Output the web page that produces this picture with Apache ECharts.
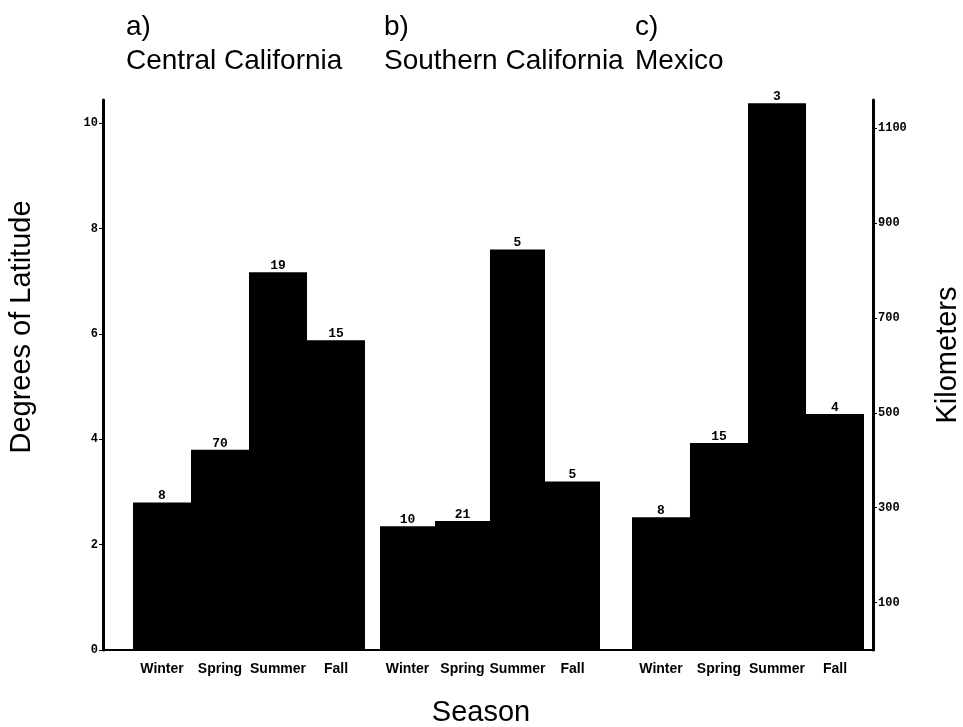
<!DOCTYPE html>
<html>
<head>
<meta charset="utf-8">
<script src="https://cdn.jsdelivr.net/npm/echarts@6/dist/echarts.min.js"></script>
<style>
	html, body { margin: 0; background: #fff; }
	#chart { width: 963px; height: 727px; }
</style>
</head>
<body>
<div id="chart"></div>
<script>
	/* seasons on each panel */
	var seasons = ['Winter', 'Spring', 'Summer', 'Fall'];
	var panelTags = ['a)', 'b)', 'c)'];
	var panelNames = ['Central California', 'Southern California', 'Mexico'];
	/* mean distance moved, degrees of latitude */
	var centralLat = [2.8, 3.8, 7.17, 5.88];
	var southernLat = [2.35, 2.45, 7.6, 3.2];
	var mexicoLat = [2.52, 3.93, 10.38, 4.48];
	/* sample sizes printed on the bars */
	var centralN = [8, 70, 19, 15];
	var southernN = [10, 21, 5, 5];
	var mexicoN = [8, 15, 3, 4];
	/* tick labels */
	var latTicks = [0, 2, 4, 6, 8, 10];
	var kmTicks = [100, 300, 500, 700, 900, 1100];

	var KM_PER_DEG = 111.1;
	var LAT_MAX = 10.44;
	var TOP = 100, BOTTOM = 77;
	var panelLeft = [133, 380, 632];
	var panelWidth = [232, 220, 232];
	var titleLeft = [121, 379, 630];
	var panelLat = [centralLat, southernLat, mexicoLat];
	var panelN = [centralN, southernN, mexicoN];

	var chart = echarts.init(document.getElementById('chart'));

	var tickFont = { color: '#000', fontFamily: 'Liberation Mono', fontWeight: 'bold', fontSize: 12 };
	var grids = [{ left: 103, right: 90, top: TOP, bottom: BOTTOM }];
	var xAxes = [{
		type: 'value', gridIndex: 0, min: 0, max: 1,
		axisLine: { show: true, lineStyle: { color: '#000', width: 2 } },
		axisTick: { show: false }, axisLabel: { show: false }, splitLine: { show: false }
	}];
	var yAxes = [{
		type: 'value', gridIndex: 0, position: 'left', min: 0, max: LAT_MAX,
		axisLine: { show: true, lineStyle: { color: '#000', width: 3 } },
		axisTick: { show: true, length: 4, customValues: latTicks, lineStyle: { color: '#000', width: 1 } },
		axisLabel: Object.assign({ customValues: latTicks, margin: 5 }, tickFont),
		splitLine: { show: false }
	}, {
		type: 'value', gridIndex: 0, position: 'right', min: 0, max: LAT_MAX * KM_PER_DEG,
		axisLine: { show: true, lineStyle: { color: '#000', width: 3 } },
		axisTick: { show: true, length: 4, customValues: kmTicks, lineStyle: { color: '#000', width: 1 } },
		axisLabel: Object.assign({ customValues: kmTicks, margin: 5, formatter: function (v) { return String(v); } }, tickFont),
		splitLine: { show: false }
	}];
	var series = [];
	var titles = [];

	panelNames.forEach(function (name, i) {
		var g = i + 1;
		grids.push({ left: panelLeft[i], width: panelWidth[i], top: TOP, bottom: BOTTOM });
		xAxes.push({
			type: 'category', gridIndex: g, data: seasons,
			axisLine: { show: false }, axisTick: { show: false },
			axisLabel: { interval: 0, hideOverlap: false, color: '#000', fontFamily: 'Liberation Sans', fontWeight: 'bold', fontSize: 14, margin: 12 }
		});
		yAxes.push({ type: 'value', gridIndex: g, min: 0, max: LAT_MAX, show: false, splitLine: { show: false } });
		var counts = panelN[i];
		series.push({
			type: 'bar', xAxisIndex: g, yAxisIndex: g + 1,
			data: panelLat[i],
			barWidth: '100%',
			itemStyle: { color: '#000', borderColor: '#000', borderWidth: 1.5 },
			label: {
				show: true, position: 'top', distance: 0,
				color: '#000', fontFamily: 'Liberation Mono', fontWeight: 'bold', fontSize: 13,
				formatter: function (p) { return counts[p.dataIndex]; }
			}
		});
		titles.push({
			text: panelTags[i], left: titleLeft[i], top: 8,
			textStyle: { fontFamily: 'Liberation Sans', fontSize: 28, fontWeight: 'normal', color: '#000' }
		});
		titles.push({
			text: name, left: titleLeft[i], top: 42,
			textStyle: { fontFamily: 'Liberation Sans', fontSize: 28, fontWeight: 'normal', color: '#000' }
		});
	});

	var nameFont = { fontFamily: 'Liberation Sans', fontSize: 29, fill: '#000', textAlign: 'center', textVerticalAlign: 'middle' };
	chart.setOption({
		animation: false,
		title: titles,
		grid: grids,
		xAxis: xAxes,
		yAxis: yAxes,
		series: series,
		graphic: [{
			type: 'text', x: 22, y: 327, rotation: Math.PI / 2,
			style: Object.assign({ text: 'Degrees of Latitude' }, nameFont)
		}, {
			type: 'text', x: 481, y: 713,
			style: Object.assign({ text: 'Season' }, nameFont)
		}, {
			type: 'text', x: 948, y: 355, rotation: Math.PI / 2,
			style: Object.assign({ text: 'Kilometers' }, nameFont)
		}]
	});
</script>
</body>
</html>
